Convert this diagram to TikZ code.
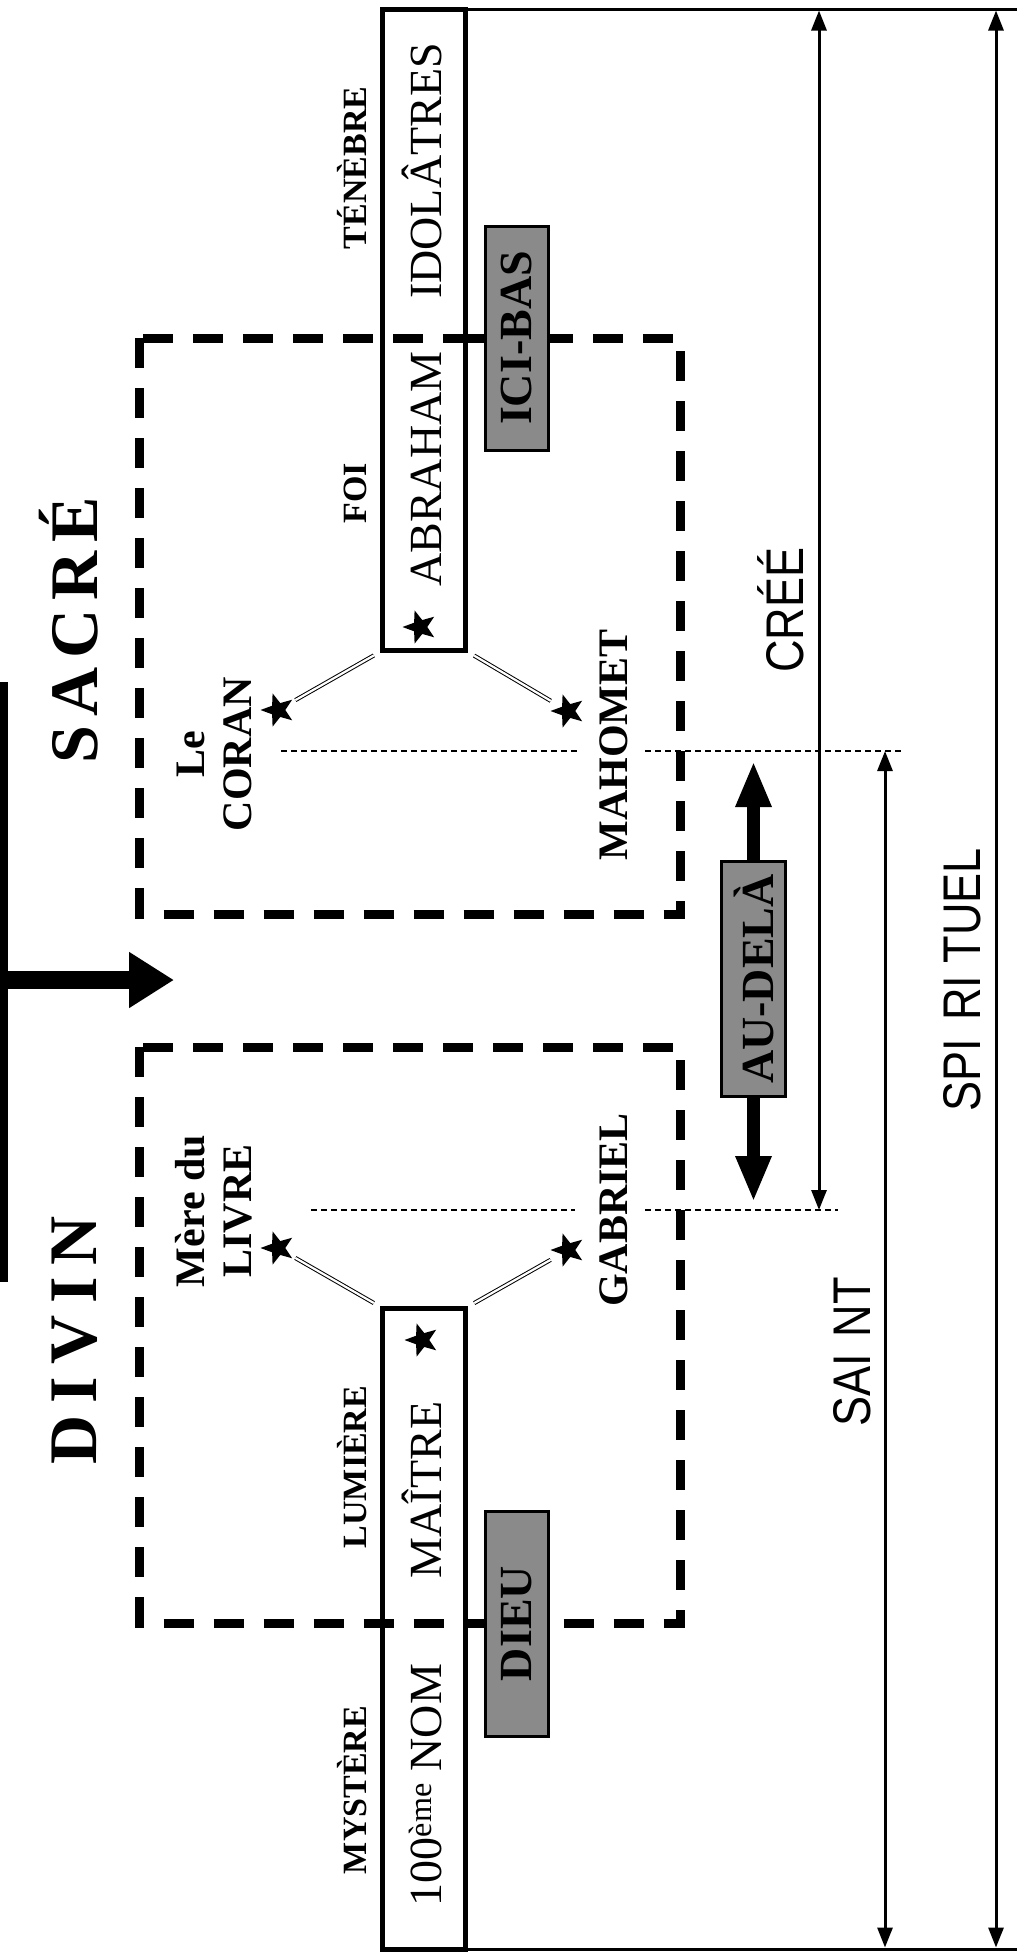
\documentclass[tikz,border=0pt]{standalone}
\usepackage{fontspec}
\setmainfont{Liberation Serif}
\newfontfamily\condsans[FakeStretch=0.85]{Liberation Sans}
\usetikzlibrary{arrows.meta,shapes.geometric}
\definecolor{grayfill}{RGB}{138,138,138}
\tikzset{
 maintxt/.style={font=\fontsize{46}{50}\selectfont, rotate=90, anchor=base, inner sep=0pt, outer sep=0pt},
 smalllbl/.style={font=\bfseries\fontsize{34}{38}\selectfont, rotate=90, anchor=base, inner sep=0pt},
 namelbl/.style={font=\bfseries\fontsize{42}{47}\selectfont, rotate=90, inner sep=0pt, align=center},
 namebase/.style={font=\bfseries\fontsize{42}{47}\selectfont, rotate=90, anchor=base, inner sep=0pt},
 titlelbl/.style={font=\bfseries\fontsize{68}{72}\selectfont, rotate=90, anchor=base, inner sep=0pt},
 sanslbl/.style={font=\condsans\fontsize{53}{58}\selectfont, rotate=90, anchor=base, inner sep=0pt},
 textbox/.style={draw, line width=5pt, minimum width=83pt, inner sep=0pt, outer sep=0pt},
 graybox/.style={draw, fill=grayfill, line width=3pt, rotate=90, inner sep=0pt, outer sep=0pt, font=\bfseries\fontsize{46}{50}\selectfont},
 zone/.style={draw, line width=9pt, dash pattern=on 30pt off 20pt},
 starnode/.style={star, star points=5, star point ratio=2.4, fill, draw=none, minimum size=35pt, inner sep=0pt, rotate=90},
 dbl/.style={double, double distance=2.2pt, line width=1pt, shorten <=10pt, shorten >=20pt},
 guide/.style={line width=2.5pt, dash pattern=on 6pt off 4pt},
 dimarrow/.style={line width=3pt, arrows={Triangle[width=15pt,length=20pt]-Triangle[width=15pt,length=20pt]}},
 thickarrow/.style={line width=13pt, arrows={Triangle[width=33pt,length=46pt]-Triangle[width=33pt,length=46pt]}},
}
\begin{document}
\begin{tikzpicture}[x=1pt,y=-1pt]
\useasboundingbox (0,0) rectangle (1017,1952);

% dashed zones
\draw[zone] (139.5,338) rectangle (680,914);
\draw[zone] (139.5,1047) rectangle (680,1623);

% main text boxes
\node[textbox, minimum height=641.5pt] (ubox) at (424,329.75) {};
\node[textbox, minimum height=641pt] (lbox) at (424,1628.5) {};

% frame lines
\coordinate (ftr) at (1020,9);
\coordinate (fbr) at (1020,1949);
\draw[line width=3pt] (ubox.north east) -- (ubox.north east -| ftr);
\draw[line width=3pt] (lbox.south east) -- (lbox.south east -| fbr);

% AU-DELA double arrow
\coordinate (adtop) at (753.5,761);
\coordinate (adbot) at (753.5,1202);
\draw[thickarrow] (adtop) -- (adbot);

% gray boxes
\node[graybox, minimum width=224pt, minimum height=63pt] (icibas) at (516.5,338) {ICI-BAS};
\node[graybox, minimum width=225pt, minimum height=63pt] (dieu) at (516.5,1623.5) {DIEU};
\node[graybox, minimum width=235pt, minimum height=64pt] (audela) at (753.5,979) {AU-DELÀ};
\draw[line width=9pt] (ubox.east |- icibas.north) -- (icibas.north);
\draw[line width=9pt] (lbox.east |- dieu.north) -- (dieu.north);

% stars
\node[starnode] (sabr) at (420,627) {};
\node[starnode] (smaitre) at (422,1340) {};
\node[starnode] (scoran) at (278,710) {};
\node[starnode] (smahomet) at (568,711) {};
\node[starnode] (slivre) at (278,1248) {};
\node[starnode] (sgabriel) at (568,1250) {};

% double lines
\draw[dbl] (ubox.south west) -- (scoran.center);
\draw[dbl] (ubox.south east) -- (smahomet.center);
\draw[dbl] (lbox.north west) -- (slivre.center);
\draw[dbl] (lbox.north east) -- (sgabriel.center);

% guide lines
\coordinate (g1a) at (281,751); \coordinate (g1b) at (578,751);
\coordinate (g1c) at (645,751); \coordinate (g1d) at (904,751);
\coordinate (g2a) at (311,1210); \coordinate (g2b) at (575,1210);
\coordinate (g2c) at (645,1210); \coordinate (g2d) at (838,1210);
\draw[guide] (g1a) -- (g1b);
\draw[guide] (g1c) -- (g1d);
\draw[guide] (g2a) -- (g2b);
\draw[guide] (g2c) -- (g2d);

% dimension arrows
\coordinate (creeT) at (819,10.5); \coordinate (creeB) at (819,1210);
\coordinate (saintT) at (885,751); \coordinate (saintB) at (885,1947.5);
\coordinate (spiT) at (996,10.5); \coordinate (spiB) at (996,1947.5);
\draw[dimarrow] (creeT) -- (creeB);
\draw[dimarrow] (saintT) -- (saintB);
\draw[dimarrow] (spiT) -- (spiB);

% big T arrow
\coordinate (vt) at (3,682); \coordinate (vb) at (3,1282);
\coordinate (vm) at (3,980); \coordinate (vtip) at (174,980);
\draw[line width=10pt] (vt) -- (vb);
\draw[line width=18pt, arrows={-Triangle[width=53pt,length=45pt]}] (vm) -- (vtip);

% main texts
\node[maintxt] (idol) at (441,171) {IDOLÂTRES};
\node[maintxt] (abra) at (441,469) {ABRAHAM};
\node[maintxt] (maitre) at (441,1490) {MAÎTRE};
\node[maintxt] (nom) at (441,1785) {100\textsuperscript{ème} NOM};

% small labels
\node[smalllbl] (tenebre) at (366,168) {TÉNÈBRE};
\node[smalllbl] (foi) at (366,493) {FOI};
\node[smalllbl] (lumiere) at (366,1467) {LUMIÈRE};
\node[smalllbl] (mystere) at (366,1790) {MYSTÈRE};

% name labels
\node[namelbl] (coran) at (214,754) {Le\\CORAN};
\node[namelbl] (livre) at (214,1211) {Mère du\\LIVRE};
\node[namebase] (mahomet) at (627,745) {MAHOMET};
\node[namebase] (gabriel) at (627,1210) {GABRIEL};

% titles
\node[titlelbl] (sacre) at (97,630) {S\kern9pt A\kern9pt C\kern9pt R\kern9pt É};
\node[titlelbl] (divin) at (96,1340) {D\kern12pt I\kern12pt V\kern12pt I\kern12pt N};

% sans labels
\node[sanslbl] (cree) at (803,610) {CRÉÉ};
\node[sanslbl] (saint) at (870,1352) {SAI\kern4pt\ NT};
\node[sanslbl] (spirituel) at (980,980) {SPI\kern6pt\ RI\ TUEL};
\end{tikzpicture}
\end{document}
